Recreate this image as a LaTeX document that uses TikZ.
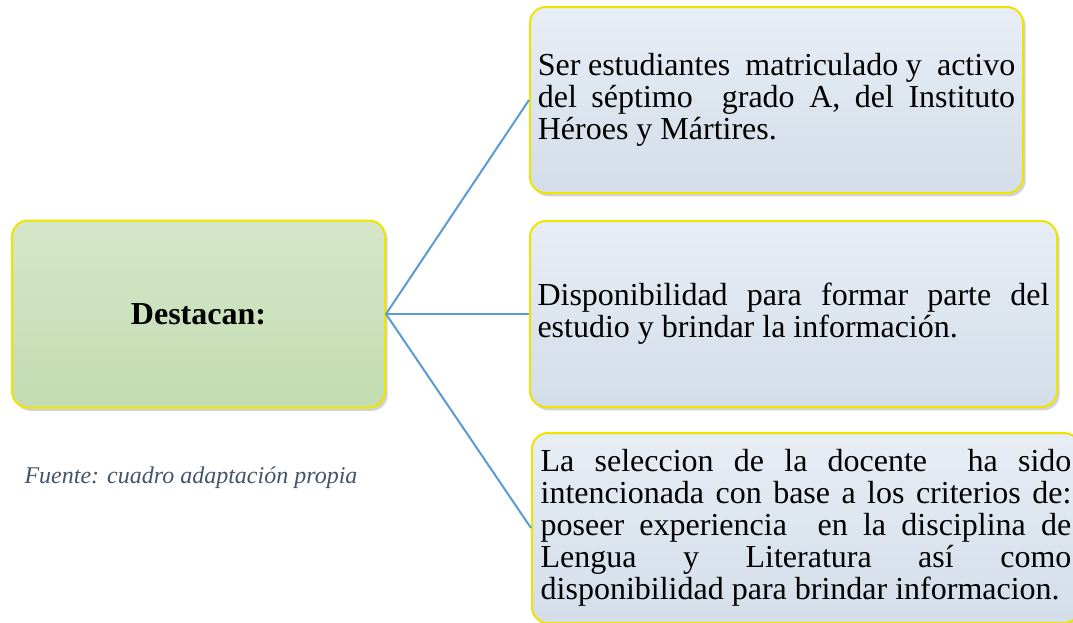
\documentclass[tikz,border=0pt]{standalone}
\usepackage{fontspec}
\setmainfont{Liberation Serif}
\usepackage{tikz}
\usetikzlibrary{shadows}

\definecolor{boxgreen}{RGB}{195,220,177}
\definecolor{boxblue}{RGB}{218,228,240}
\definecolor{rimyellow}{RGB}{238,228,0}
\definecolor{linkblue}{RGB}{91,155,213}
\definecolor{notegray}{RGB}{68,84,106}

\begin{document}
\begin{tikzpicture}[x=0.75pt,y=0.75pt,yscale=-1,xscale=1,
  bevelbox/.style={draw=rimyellow, line width=1.5pt, rounded corners=12pt,
    drop shadow={opacity=0.35, shadow xshift=2pt, shadow yshift=-2.5pt},
    inner xsep=5pt, font=\fontsize{24}{24}\selectfont},
  greenbox/.style={bevelbox, top color=boxgreen!70!white, middle color=boxgreen, bottom color=boxgreen,
    minimum width=279.75pt, minimum height=140.25pt, font=\bfseries\fontsize{24}{24}\selectfont},
  bluebox/.style={bevelbox, top color=boxblue!65!white, middle color=boxblue, bottom color=boxblue!97!black,
    align=justify},
  link/.style={draw=linkblue, line width=1.5pt}]
\clip (0,0) rectangle (1073,622);

%Shape: Rounded Rect [id:hub]
\node[greenbox] (hub) at (198.5,314) {Destacan:};

%Shape: Rounded Rect [id:criterio1]
\node[bluebox, minimum width=369.75pt, minimum height=139.5pt, text width=358pt] (crit1) at (776.5,100)
  {Ser estudiantes\ \ matriculado y\ \ activo\linebreak del séptimo\ \ grado A, del Instituto\linebreak Héroes y Mártires.};
%Shape: Rounded Rect [id:criterio2]
\node[bluebox, minimum width=395.25pt, minimum height=139.5pt, text width=384pt] (crit2) at (793.5,314)
  {Disponibilidad para formar parte del\linebreak estudio y brindar la información.};
%Shape: Rounded Rect [id:criterio3]
\node[bluebox, minimum width=411pt, minimum height=142.5pt, text width=398pt] (crit3) at (806,528)
  {La seleccion de la docente\ \ ha sido\linebreak intencionada con base a los criterios de:\linebreak poseer experiencia\ \ en la disciplina de\linebreak Lengua y Literatura así como\linebreak disponibilidad para brindar informacion.};

%Straight Lines
\draw[link] (hub.east) -- (crit1.west);
\draw[link] (hub.east) -- (crit2.west);
\draw[link] (hub.east) -- (crit3.west);

% Text Node
\node[text=notegray, font=\itshape\fontsize{18}{20}\selectfont] (fuente) at (191,478) {Fuente: cuadro adaptación propia};

\end{tikzpicture}
\end{document}
